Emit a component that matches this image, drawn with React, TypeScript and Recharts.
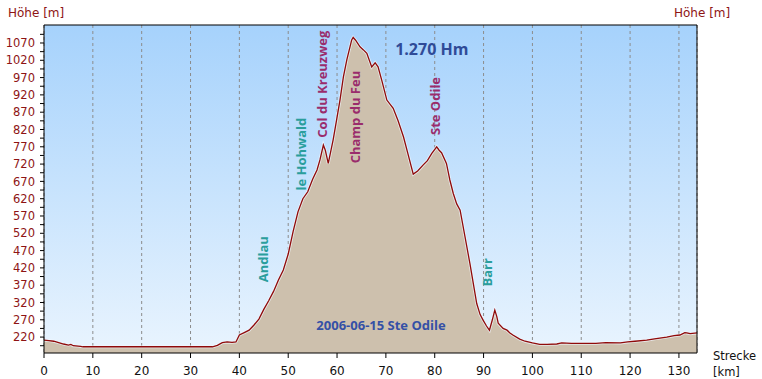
import { ComposedChart, Area, Line, XAxis, YAxis, CartesianGrid, ReferenceLine, ReferenceDot } from 'recharts';

// Streckenprofil: km / Höhe in m
const km = [
  0, 1, 2, 3, 4, 5, 5.5, 6, 7, 7.5, 8, 12, 16, 20, 24, 28, 32, 34.5,
  35.5, 36.5, 37.5, 38.5, 39.3, 40, 41, 42, 43, 44, 45, 46, 47, 48, 49, 50,
  51, 52, 53, 54, 55, 55.9, 56.5, 57.2, 57.6, 58.2, 59.2, 59.9, 60.6, 61.3, 62, 63, 63.3,
  63.8, 64.7, 65.4, 66.1, 67.1, 67.8, 68.4, 69.2, 70.2, 71.5, 72.5, 73.6, 74.6, 75.6,
  76.5, 77.6, 78.5, 79.4, 80.4, 80.9, 81.4, 82.4, 83.1, 83.8, 84.5, 85.2, 86.2, 87.2,
  88.6, 89.3, 89.9, 90.6, 91.2, 91.8, 92.3, 92.7, 93, 94, 94.8, 95.4, 96, 97.4,
  98.5, 100, 101.5, 103, 105, 106, 108, 110, 113, 115, 118, 119.5, 121, 123.4,
  125, 127.5, 129, 130.2, 131.2, 131.6, 132.3, 133.7,
];
const elevation = [
  211, 210, 208, 204, 200, 197, 199, 195, 194, 193, 192, 192, 192, 192, 192, 192, 192, 192,
  196, 204, 206, 205, 206, 226, 233, 240, 255, 272, 300, 325, 352, 385, 414, 460,
  525, 582, 620, 640, 676, 703, 732, 775, 760, 722, 790, 847, 905, 972, 1021, 1079, 1086,
  1078, 1059, 1050, 1040, 1001, 1013, 1001, 960, 905, 881, 845, 799, 745, 691,
  700, 717, 730, 751, 770, 760, 753, 722, 674, 635, 605, 587, 510, 433,
  317, 285, 269, 252, 240, 270, 298, 280, 260, 245, 240, 232, 226, 214,
  208, 203, 199, 199, 200, 203, 202, 202, 202, 204, 203, 206, 208, 211,
  215, 220, 224, 226, 233, 232, 230, 232,
];
const kmTicks = [0, 10, 20, 30, 40, 50, 60, 70, 80, 90, 100, 110, 120, 130];
const heightTicks = [
  195, 220, 245, 270, 295, 320, 345, 370, 395, 420, 445, 470, 495, 520, 545, 570, 595, 620,
  645, 670, 695, 720, 745, 770, 795, 820, 845, 870, 895, 920, 945, 970, 995, 1020, 1045,
  1070, 1095,
];
const heightLabels = [
  220, 270, 320, 370, 420, 470, 520, 570, 620, 670, 720, 770, 820, 870, 920, 970, 1020, 1070,
];

const placeNames = ['Andlau', 'le Hohwald', 'Col du Kreuzweg', 'Champ du Feu', 'Ste Odile', 'Barr'];
const placeKm = [44.8, 52.6, 56.9, 63.7, 80.0, 90.7];
const placeHeight = [445, 749, 951, 856, 888, 407];
const placeKind = ['ort', 'ort', 'pass', 'pass', 'pass', 'ort'];

const Y_MIN = 174;
const Y_MAX = 1122;
const X_MAX = 133.7;

const data = km.map((k, i) => ({ km: k, hoehe: elevation[i] }));

const axisRed = '#8e1414';
const font = '"DejaVu Sans", Verdana, sans-serif';
const boldFont = '"Open Sans", "DejaVu Sans", sans-serif';

const LeftTick = (p: any) => {
  const v = p.payload.value;
  if (!heightLabels.includes(v)) return null;
  return (
    <text x={p.x - 3} y={p.y} dy="0.36em" textAnchor="end" fill={axisRed} fontSize={11.5} fontFamily={font}>
      {v}
    </text>
  );
};

const RightTick = (p: any) => {
  const v = p.payload.value;
  if (!heightLabels.includes(v)) return null;
  return (
    <text x={p.x + 4} y={p.y} dy="0.36em" textAnchor="start" fill={axisRed} fontSize={11.5} fontFamily={font}>
      {v}
    </text>
  );
};

const KmTick = (p: any) => (
  <text x={p.x} y={p.y + 6} dy="0.71em" textAnchor="middle" fill="#111" fontSize={12} fontFamily={font}>
    {p.payload.value}
  </text>
);

export default function App() {
  return (
    <div style={{ position: 'absolute', left: 0, top: 0, width: 762, height: 379, background: '#fff' }}>
      <ComposedChart width={762} height={379} data={data} margin={{ top: 25, right: 0, bottom: 0, left: 0 }}>
        <defs>
          <linearGradient id="sky" x1="0" y1="0" x2="0" y2="1">
            <stop offset="0%" stopColor="#a6d2fc" />
            <stop offset="100%" stopColor="#e9f4fe" />
          </linearGradient>
        </defs>
        <CartesianGrid horizontal={false} stroke="#8c8c8c" strokeDasharray="3 3" fill="url(#sky)" fillOpacity={1} />
        <XAxis
          dataKey="km"
          type="number"
          domain={[0, X_MAX]}
          ticks={kmTicks}
          interval={0}
          height={26}
          stroke="#000"
          tickSize={5}
          tick={<KmTick />}
        />
        <YAxis
          yAxisId="l"
          orientation="left"
          type="number"
          domain={[Y_MIN, Y_MAX]}
          ticks={heightTicks}
          interval={0}
          width={44}
          stroke="#000"
          tickSize={4}
          tick={<LeftTick />}
        />
        <YAxis
          yAxisId="r"
          orientation="right"
          type="number"
          domain={[Y_MIN, Y_MAX]}
          ticks={heightTicks}
          interval={0}
          width={65}
          stroke="#000"
          tickSize={4}
          tick={<RightTick />}
        />
        <Area
          yAxisId="l"
          dataKey="hoehe"
          type="linear"
          fill="#cdc0ad"
          fillOpacity={1}
          stroke="none"
          baseValue={Y_MIN}
          isAnimationActive={false}
        />
        <Line yAxisId="l" dataKey="hoehe" type="linear" stroke="#f2f8ff" strokeOpacity={0.7} strokeWidth={3} dot={false} isAnimationActive={false} />
        <Line yAxisId="l" dataKey="hoehe" type="linear" stroke="#8f0a0a" strokeWidth={1.3} dot={false} isAnimationActive={false} />
        <ReferenceLine yAxisId="l" y={Y_MAX} stroke="#000" strokeWidth={1.2} />
        {placeNames.map((name, i) => (
          <ReferenceDot
            key={name}
            yAxisId="l"
            x={placeKm[i]}
            y={placeHeight[i]}
            r={1}
            shape={(s: any) => (
              <text
                x={s.cx}
                y={s.cy}
                transform={`rotate(-90 ${s.cx} ${s.cy})`}
                textAnchor="middle"
                dominantBaseline="central"
                fill={placeKind[i] === 'pass' ? '#9a2c6c' : '#2a9e9c'}
                fontSize={13}
                fontWeight={700}
                fontFamily={boldFont}
              >
                {name}
              </text>
            )}
          />
        ))}
        <ReferenceDot
          yAxisId="l"
          x={79.4}
          y={1053}
          r={1}
          shape={(s: any) => (
            <text x={s.cx} y={s.cy} textAnchor="middle" dominantBaseline="central" fill="#2f4b98" fontSize={16} fontWeight={700} fontFamily={boldFont}>
              1.270 Hm
            </text>
          )}
        />
        <ReferenceDot
          yAxisId="l"
          x={69}
          y={255}
          r={1}
          shape={(s: any) => (
            <text x={s.cx} y={s.cy} textAnchor="middle" dominantBaseline="central" fill="#3450a6" fontSize={13} fontWeight={700} fontFamily={boldFont}>
              2006-06-15 Ste Odile
            </text>
          )}
        />
      </ComposedChart>
      <span style={{ position: 'absolute', left: 8, top: 6, fontSize: 12, fontFamily: font, color: axisRed }}>Höhe [m]</span>
      <span style={{ position: 'absolute', left: 674, top: 6, fontSize: 12, fontFamily: font, color: axisRed }}>Höhe [m]</span>
      <span style={{ position: 'absolute', left: 713, top: 348, fontSize: 11.5, fontFamily: font, color: '#111', lineHeight: '16px' }}>
        Strecke
        <br />
        [km]
      </span>
    </div>
  );
}
